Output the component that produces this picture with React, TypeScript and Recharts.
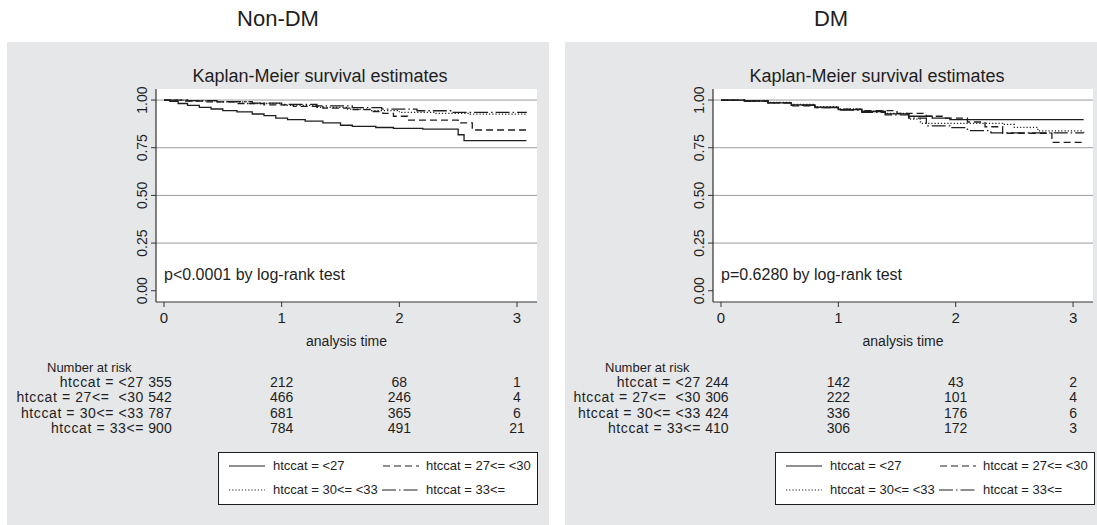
import React from "react";
import {
  LineChart,
  Line,
  XAxis,
  YAxis,
  CartesianGrid,
  ReferenceLine,
} from "recharts";

const timeTicks = [0, 1, 2, 3];
const survTicks = [0, 0.25, 0.5, 0.75, 1];
const gridValues = [0.25, 0.5, 0.75, 1];
const riskLabels = [
  "htccat = <27",
  "htccat = 27<=  <30",
  "htccat = 30<= <33",
  "htccat = 33<=",
];
const legendLabels = [
  "htccat = <27",
  "htccat = 27<= <30",
  "htccat = 30<= <33",
  "htccat = 33<=",
];

// Non-DM survival curves
const nonDmTime27 = [0, 0.05, 0.12, 0.2, 0.3, 0.4, 0.5, 0.62, 0.75, 0.85, 0.95, 1.05, 1.2, 1.35, 1.5, 1.6, 1.8, 1.95, 2.2, 2.5, 2.55, 3.08];
const nonDmSurv27 = [1, 0.993, 0.982, 0.972, 0.962, 0.953, 0.945, 0.938, 0.927, 0.918, 0.905, 0.897, 0.89, 0.88, 0.868, 0.862, 0.856, 0.851, 0.848, 0.818, 0.787, 0.787];
const nonDmTime2730 = [0, 0.15, 0.35, 0.6, 0.85, 1.1, 1.35, 1.6, 1.75, 1.86, 1.95, 2.07, 2.5, 2.62, 3.08];
const nonDmSurv2730 = [1, 0.995, 0.99, 0.982, 0.975, 0.967, 0.958, 0.95, 0.94, 0.93, 0.915, 0.895, 0.88, 0.843, 0.843];
const nonDmTime3033 = [0, 0.2, 0.45, 0.7, 1.0, 1.3, 1.55, 1.75, 2.0, 2.3, 2.6, 3.08];
const nonDmSurv3033 = [1, 0.996, 0.99, 0.982, 0.972, 0.962, 0.952, 0.945, 0.935, 0.93, 0.926, 0.925];
const nonDmTime33 = [0, 0.2, 0.45, 0.75, 1.0, 1.3, 1.6, 1.85, 2.15, 2.45, 3.08];
const nonDmSurv33 = [1, 0.997, 0.992, 0.984, 0.977, 0.969, 0.96, 0.952, 0.944, 0.935, 0.934];

// DM survival curves
const dmTime27 = [0, 0.2, 0.4, 0.6, 0.8, 1.0, 1.2, 1.4, 1.6, 1.8, 1.95, 3.09];
const dmSurv27 = [1, 0.995, 0.985, 0.975, 0.963, 0.95, 0.94, 0.928, 0.915, 0.905, 0.897, 0.897];
const dmTime2730 = [0, 0.2, 0.4, 0.6, 0.8, 1.0, 1.2, 1.5, 1.75, 1.9, 2.1, 2.25, 2.4, 2.82, 3.09];
const dmSurv2730 = [1, 0.996, 0.985, 0.97, 0.96, 0.952, 0.945, 0.93, 0.915, 0.905, 0.885, 0.86, 0.826, 0.778, 0.778];
const dmTime3033 = [0, 0.2, 0.4, 0.6, 0.8, 1.0, 1.2, 1.4, 1.6, 1.7, 2.4, 2.5, 2.7, 3.09];
const dmSurv3033 = [1, 0.996, 0.988, 0.977, 0.965, 0.953, 0.942, 0.93, 0.9, 0.878, 0.872, 0.857, 0.838, 0.836];
const dmTime33 = [0, 0.2, 0.4, 0.6, 0.8, 1.0, 1.2, 1.4, 1.6, 1.75, 1.95, 2.1, 2.3, 3.09];
const dmSurv33 = [1, 0.995, 0.985, 0.972, 0.96, 0.948, 0.935, 0.922, 0.905, 0.865, 0.855, 0.84, 0.828, 0.826];

// number at risk at t = 0, 1, 2, 3
const nonDmRisk27 = [355, 212, 68, 1];
const nonDmRisk2730 = [542, 466, 246, 4];
const nonDmRisk3033 = [787, 681, 365, 6];
const nonDmRisk33 = [900, 784, 491, 21];
const dmRisk27 = [244, 142, 43, 2];
const dmRisk2730 = [306, 222, 101, 4];
const dmRisk3033 = [424, 336, 176, 6];
const dmRisk33 = [410, 306, 172, 3];

const xDomain: [number, number] = [-0.068, 3.17];
const yDomain: [number, number] = [-0.059, 1.058];
const dashes = [undefined, "7 4", "1.2 2", "14 3 1.5 3"];
const FONT = "'Liberation Sans', Arial, Helvetica, sans-serif";
const INK = "#1e1e1e";

const toPoints = (t: number[], s: number[]) => t.map((v, i) => ({ t: v, s: s[i] }));

const SurvTick = (props: any) => {
  const { x, y, payload } = props;
  return (
    <text
      x={x}
      y={y}
      dy={-2}
      transform={`rotate(-90 ${x} ${y})`}
      textAnchor="middle"
      fontSize={14}
      fill={INK}
      fontFamily={FONT}
    >
      {payload.value.toFixed(2)}
    </text>
  );
};

const LegendSample = ({ x1, x2, y, dash }: { x1: number; x2: number; y: number; dash?: string }) => (
  <svg style={{ position: "absolute", left: x1, top: y - 3 }} width={x2 - x1} height={6}>
    <line x1={0} y1={3} x2={x2 - x1} y2={3} stroke={INK} strokeWidth={1.2} strokeDasharray={dash} />
  </svg>
);

type PanelProps = {
  title: string;
  panelLeft: number;
  panelWidth: number;
  plotLeft: number;
  plotRight: number;
  pText: string;
  series: { t: number; s: number }[][];
  risk: number[][];
  legendLeft: number;
};

const Panel = ({ title, panelLeft, panelWidth, plotLeft, plotRight, pText, series, risk, legendLeft }: PanelProps) => {
  const chartLeft = plotLeft - 50;
  const chartTop = 60;
  const plotBottom = 302;
  const xAt = (t: number) => plotLeft + ((t - xDomain[0]) / (xDomain[1] - xDomain[0])) * (plotRight - plotLeft);
  const rowY = [382, 397, 413, 428];

  return (
    <>
      <div
        style={{
          position: "absolute",
          left: panelLeft,
          top: 6,
          width: panelWidth,
          textAlign: "center",
          fontSize: 22,
          color: INK,
        }}
      >
        {title}
      </div>
      <div
        style={{
          position: "absolute",
          left: panelLeft,
          top: 42,
          width: panelWidth,
          height: 483,
          background: "#e6e7e9",
        }}
      />
      <div
        style={{
          position: "absolute",
          left: plotLeft + 164 - 150,
          top: 66,
          width: 300,
          textAlign: "center",
          fontSize: 18,
          color: INK,
        }}
      >
        Kaplan-Meier survival estimates
      </div>
      <div style={{ position: "absolute", left: chartLeft, top: chartTop }}>
        <LineChart
          width={plotRight - chartLeft + 4}
          height={plotBottom - chartTop + 50}
          margin={{ top: 29, right: 4, bottom: 0, left: 0 }}
        >
          <CartesianGrid fill="#ffffff" horizontal={false} vertical={false} />
          {gridValues.map((v) => (
            <ReferenceLine key={v} y={v} stroke="#9b9b9b" strokeWidth={1} />
          ))}
          <XAxis
            type="number"
            dataKey="t"
            domain={xDomain}
            ticks={timeTicks}
            allowDataOverflow
            height={50}
            tickSize={5}
            tickMargin={5}
            axisLine={{ stroke: "#333", strokeWidth: 1.2 }}
            tickLine={{ stroke: "#333" }}
            tick={{ fontSize: 15, fill: INK, fontFamily: FONT }}
            label={{ value: "analysis time", position: "insideBottom", offset: 6, fontSize: 14, fill: INK, fontFamily: FONT }}
          />
          <YAxis
            type="number"
            domain={yDomain}
            ticks={survTicks}
            allowDataOverflow
            width={50}
            tickSize={5}
            axisLine={{ stroke: "#333", strokeWidth: 1.2 }}
            tickLine={{ stroke: "#333" }}
            tick={<SurvTick />}
          />
          {series.map((d, i) => (
            <Line
              key={i}
              data={d}
              dataKey="s"
              type="stepAfter"
              stroke={INK}
              strokeWidth={1.3}
              strokeDasharray={dashes[i]}
              dot={false}
              activeDot={false}
              isAnimationActive={false}
            />
          ))}
        </LineChart>
      </div>
      <div style={{ position: "absolute", left: plotLeft + 8, top: 266, fontSize: 16, color: INK }}>{pText}</div>
      <div style={{ position: "absolute", left: panelLeft + 40, top: 360, fontSize: 13, color: INK }}>Number at risk</div>
      {risk.map((row, r) => (
        <React.Fragment key={r}>
          <div
            style={{
              position: "absolute",
              right: 1097 - (plotLeft - 12),
              top: rowY[r] - 8,
              fontSize: 14,
              letterSpacing: 0.6,
              whiteSpace: "pre",
              color: INK,
            }}
          >
            {riskLabels[r]}
          </div>
          {row.map((n, c) => (
            <div
              key={c}
              style={{
                position: "absolute",
                left: xAt(timeTicks[c]) - 30 - (c === 0 ? 4 : 0),
                width: 60,
                textAlign: "center",
                top: rowY[r] - 8,
                fontSize: 14,
                color: INK,
              }}
            >
              {n}
            </div>
          ))}
        </React.Fragment>
      ))}
      <div
        style={{
          position: "absolute",
          left: legendLeft,
          top: 452,
          width: 320,
          height: 53,
          boxSizing: "border-box",
          border: `1px solid ${INK}`,
          background: "#fff",
          fontSize: 13,
          color: INK,
          whiteSpace: "pre",
        }}
      >
        <LegendSample x1={10} x2={46} y={13} dash={dashes[0]} />
        <div style={{ position: "absolute", left: 54, top: 5 }}>{legendLabels[0]}</div>
        <LegendSample x1={164} x2={200} y={13} dash={dashes[1]} />
        <div style={{ position: "absolute", left: 207, top: 5 }}>{legendLabels[1]}</div>
        <LegendSample x1={10} x2={46} y={37} dash={dashes[2]} />
        <div style={{ position: "absolute", left: 54, top: 29 }}>{legendLabels[2]}</div>
        <LegendSample x1={163} x2={200} y={37} dash={dashes[3]} />
        <div style={{ position: "absolute", left: 207, top: 29 }}>{legendLabels[3]}</div>
      </div>
    </>
  );
};

export default function App() {
  const nonDmSeries = [
    toPoints(nonDmTime27, nonDmSurv27),
    toPoints(nonDmTime2730, nonDmSurv2730),
    toPoints(nonDmTime3033, nonDmSurv3033),
    toPoints(nonDmTime33, nonDmSurv33),
  ];
  const dmSeries = [
    toPoints(dmTime27, dmSurv27),
    toPoints(dmTime2730, dmSurv2730),
    toPoints(dmTime3033, dmSurv3033),
    toPoints(dmTime33, dmSurv33),
  ];
  return (
    <div
      style={{
        position: "absolute",
        left: 0,
        top: 0,
        width: 1097,
        height: 525,
        overflow: "hidden",
        background: "#fff",
        fontFamily: FONT,
      }}
    >
      <Panel
        title="Non-DM"
        panelLeft={7}
        panelWidth={542}
        plotLeft={156}
        plotRight={537}
        pText="p<0.0001 by log-rank test"
        series={nonDmSeries}
        risk={[nonDmRisk27, nonDmRisk2730, nonDmRisk3033, nonDmRisk33]}
        legendLeft={218}
      />
      <Panel
        title="DM"
        panelLeft={565}
        panelWidth={532}
        plotLeft={713}
        plotRight={1093}
        pText="p=0.6280 by log-rank test"
        series={dmSeries}
        risk={[dmRisk27, dmRisk2730, dmRisk3033, dmRisk33]}
        legendLeft={775}
      />
    </div>
  );
}
